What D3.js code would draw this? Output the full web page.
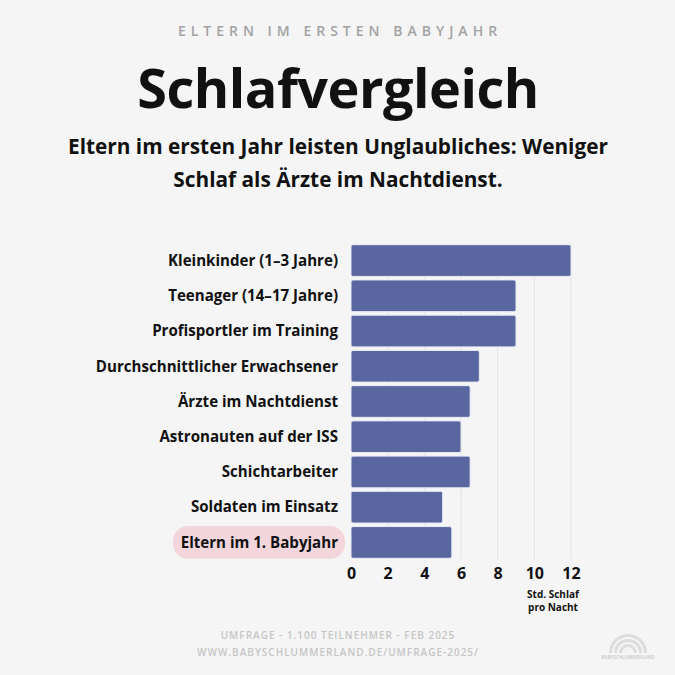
<!DOCTYPE html>
<html><head><meta charset="utf-8">
<script src="https://cdn.jsdelivr.net/npm/d3@7"></script>
<style>
html,body{margin:0;padding:0;background:#f5f5f5;}
svg{display:block;font-family:"Open Sans","Noto Sans",sans-serif;}
</style></head>
<body>
<svg id="c" width="675" height="675"></svg>
<script>
const categories = ["Kleinkinder (1–3 Jahre)","Teenager (14–17 Jahre)","Profisportler im Training","Durchschnittlicher Erwachsener","Ärzte im Nachtdienst","Astronauten auf der ISS","Schichtarbeiter","Soldaten im Einsatz","Eltern im 1. Babyjahr"];
const hours = [12, 9, 9, 7, 6.5, 6, 6.5, 5, 5.5];
const ticks = [0, 2, 4, 6, 8, 10, 12];
const highlight = "Eltern im 1. Babyjahr";

const svg = d3.select("#c");
svg.append("rect").attr("width",675).attr("height",675).attr("fill","#f5f5f5");

svg.append("text").attr("x",340).attr("y",36).attr("text-anchor","middle")
  .attr("font-size",14).attr("font-weight",600).attr("letter-spacing",5).attr("fill","#a3a3a3")
  .text("ELTERN IM ERSTEN BABYJAHR");
svg.append("text").attr("x",338).attr("y",108).attr("text-anchor","middle")
  .attr("font-size",54).attr("font-weight",700).attr("fill","#111").attr("letter-spacing",-0.5)
  .text("Schlafvergleich");
svg.append("text").attr("x",338).attr("y",154).attr("text-anchor","middle")
  .attr("font-size",20.8).attr("font-weight",700).attr("fill","#111")
  .text("Eltern im ersten Jahr leisten Unglaubliches: Weniger");
svg.append("text").attr("x",338).attr("y",187).attr("text-anchor","middle")
  .attr("font-size",20.8).attr("font-weight",700).attr("fill","#111")
  .text("Schlaf als Ärzte im Nachtdienst.");

const x = d3.scaleLinear().domain([0,12]).range([351,571]);
const y = d3.scaleBand().domain(categories).range([244,559]).paddingInner(0.1).paddingOuter(0.02);

// gridlines
svg.append("g").selectAll("line").data(ticks.filter(t=>t>0)).join("line")
  .attr("x1",d=>x(d)).attr("x2",d=>x(d)).attr("y1",y.range()[0]).attr("y2",559)
  .attr("stroke","#e2e2e2").attr("stroke-width",1);

// highlight pill
const hy = y(highlight);
svg.append("rect").attr("x",173).attr("y",hy-0.5).attr("width",172).attr("height",y.bandwidth()+1)
  .attr("rx",15).attr("fill","#f2d6dc");

// bars
svg.append("g").selectAll("rect").data(categories).join("rect")
  .attr("x",x(0)).attr("y",d=>y(d))
  .attr("width",(d,i)=>x(hours[i])-x(0)).attr("height",y.bandwidth())
  .attr("rx",2).attr("fill","#5a669f").attr("stroke","#e8ecf6").attr("stroke-width",1);

// category labels
svg.append("g").selectAll("text").data(categories).join("text")
  .attr("x",338).attr("y",d=>y(d)+y.bandwidth()/2).attr("dy","0.35em")
  .attr("text-anchor","end").attr("font-size",15.1).attr("font-weight",700).attr("fill","#111")
  .text(d=>d);

// x axis
const ax = svg.append("g").attr("transform","translate(0,565)")
  .call(d3.axisBottom(x).tickValues(ticks).tickSize(0).tickPadding(0).tickFormat(d3.format("d")));
ax.select(".domain").remove();
ax.selectAll("text").attr("font-size",16).attr("font-weight",700).attr("fill","#111")
  .attr("font-family","\"Open Sans\",sans-serif").attr("dy","0.9em");

svg.append("text").attr("x",553).attr("y",598).attr("text-anchor","middle")
  .attr("font-size",10).attr("font-weight",700).attr("fill","#111").text("Std. Schlaf");
svg.append("text").attr("x",553).attr("y",611).attr("text-anchor","middle")
  .attr("font-size",10).attr("font-weight",700).attr("fill","#111").text("pro Nacht");

// footer
svg.append("text").attr("x",338).attr("y",639).attr("text-anchor","middle")
  .attr("font-size",10).attr("font-weight",600).attr("letter-spacing",1).attr("fill","#c6c6c6")
  .text("UMFRAGE - 1.100 TEILNEHMER - FEB 2025");
svg.append("text").attr("x",338).attr("y",656).attr("text-anchor","middle")
  .attr("font-size",10).attr("font-weight",600).attr("letter-spacing",1).attr("fill","#c6c6c6")
  .text("WWW.BABYSCHLUMMERLAND.DE/UMFRAGE-2025/");

// logo
const lg = svg.append("g").attr("transform","translate(628,653)");
[19,14,9].forEach(r=>{
  lg.append("path").attr("d",d3.arc()({innerRadius:r-3,outerRadius:r,startAngle:-Math.PI/2,endAngle:Math.PI/2}))
    .attr("fill","#dcdcdc");
});
lg.append("text").attr("x",0).attr("y",6).attr("text-anchor","middle").attr("font-size",4.5)
  .attr("fill","#d0d0d0").attr("font-weight",700).text("BABYSCHLUMMERLAND");
</script>
</body></html>
